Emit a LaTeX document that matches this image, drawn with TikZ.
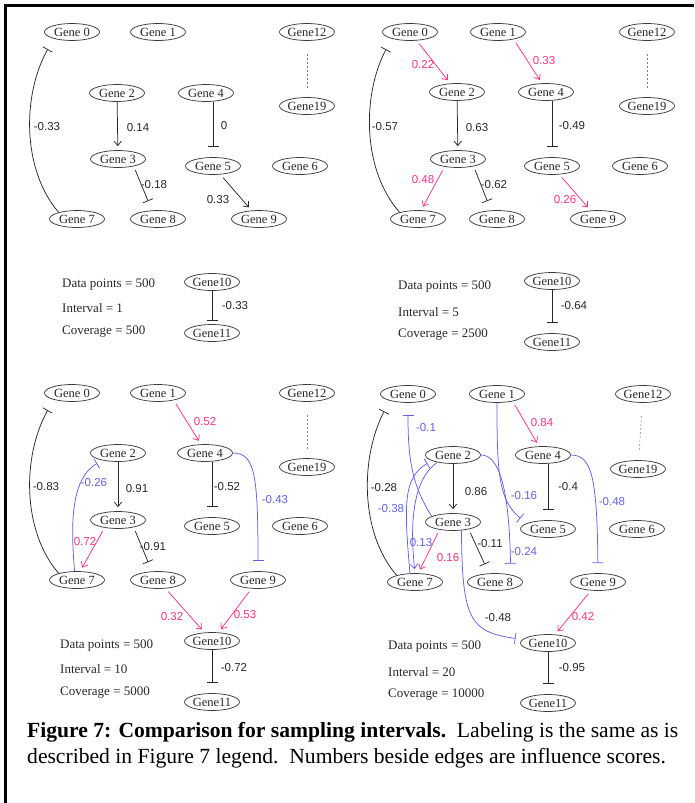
\documentclass[tikz,border=0pt]{standalone}
\usepackage{fontspec}
\setmainfont{Liberation Serif}
\newfontfamily\edgesans{Liberation Sans}
\usetikzlibrary{shapes.geometric,arrows.meta}
\definecolor{actpink}{RGB}{255,51,128}
\definecolor{inhblue}{RGB}{96,96,235}
\definecolor{ink}{RGB}{40,40,40}
\newcommand{\genefont}{\fontsize{12.5}{12.5}\selectfont}
\newcommand{\edgefont}{\edgesans\fontsize{11.5}{11.5}\selectfont}
\newcommand{\infofont}{\fontsize{13}{13}\selectfont}

\begin{document}
\begin{tikzpicture}[x=1pt,y=-1pt,
  gene/.style={ellipse,draw=ink!90,line width=0.75pt,minimum width=55pt,minimum height=17pt,inner sep=0pt,font=\genefont,text=ink},
  link/.style={draw=ink,line width=0.75pt},
  act/.style={link,-{Straight Barb[length=4.5pt,width=7.5pt]},shorten >=4pt},
  inh/.style={link,-{Bar[width=11pt]},shorten >=10pt},
  pinklink/.style={draw=actpink},
  bluelink/.style={draw=inhblue},
  startgap/.style={shorten <=4pt},
  pairline/.style={draw=ink!60,line width=0.5pt,dash pattern=on 2pt off 2pt,shorten <=13pt,shorten >=9pt},
  wt/.style={font=\edgefont,text=ink,inner sep=0pt},
  wtpink/.style={wt,text=actpink},
  wtblue/.style={wt,text=inhblue},
  infotext/.style={anchor=west,font=\infofont,text=ink,inner sep=0pt},
  captionline/.style={anchor=base west,inner sep=0pt,font=\fontsize{21.6}{26}\selectfont,text=black}
]
\useasboundingbox (0,0) rectangle (694,803);

% frame
\draw[line width=3pt] (5,803) -- (5,5) -- (694,5);

% ---------- interval 1 ----------
\node[gene] (a0) at (72,32) {Gene 0};
\node[gene] (a1) at (158,32) {Gene 1};
\node[gene] (a12) at (307,32) {Gene12};
\node[gene] (a2) at (117,93) {Gene 2};
\node[gene] (a4) at (206,93) {Gene 4};
\node[gene] (a19) at (307,106) {Gene19};
\node[gene] (a3) at (118,159) {Gene 3};
\node[gene] (a5) at (213,166) {Gene 5};
\node[gene] (a6) at (300,166) {Gene 6};
\node[gene] (a7) at (77,219) {Gene 7};
\node[gene] (a8) at (158,219) {Gene 8};
\node[gene] (a9) at (259,219) {Gene 9};
\node[gene] (a10) at (212,282) {Gene10};
\node[gene] (a11) at (212,333) {Gene11};

\draw[inh,shorten >=12pt] (a7.160) .. controls (22,170) and (22,95) .. (a0.200);
\node[wt] at (47,127) {-0.33};
\draw[act] (a2) -- (a3);
\node[wt] at (138,128) {0.14};
\draw[inh] (a4.south -| a5) -- (a5.north);
\node[wt] at (224,126) {0};
\draw[inh,startgap] (a3.-25) -- (a8.125);
\node[wt] at (154,185) {-0.18};
\draw[act,startgap] (a5) -- (a9);
\node[wt] at (218,200) {0.33};
\draw[pairline] (a12) -- (a19);
\draw[inh,shorten >=3pt] (a10) -- (a11);
\node[wt] at (235,306) {-0.33};
\node[infotext] at (62,285) {Data points = 500};
\node[infotext] at (62,308) {Interval = 1};
\node[infotext] at (62,332) {Coverage = 500};

% ---------- interval 5 ----------
\node[gene] (b0) at (410,32) {Gene 0};
\node[gene] (b1) at (498,32) {Gene 1};
\node[gene] (b12) at (647,32) {Gene12};
\node[gene] (b2) at (457,92) {Gene 2};
\node[gene] (b4) at (546,92) {Gene 4};
\node[gene] (b19) at (647,106) {Gene19};
\node[gene] (b3) at (458,159) {Gene 3};
\node[gene] (b5) at (552,166) {Gene 5};
\node[gene] (b6) at (640,166) {Gene 6};
\node[gene] (b7) at (418,219) {Gene 7};
\node[gene] (b8) at (497,219) {Gene 8};
\node[gene] (b9) at (598,219) {Gene 9};
\node[gene] (b10) at (552,281) {Gene10};
\node[gene] (b11) at (552,342) {Gene11};

\draw[act,pinklink,startgap] (b0) -- (b2);
\node[wtpink] at (423,65) {0.22};
\draw[act,pinklink,startgap] (b1.-25) -- (b4.115);
\node[wtpink] at (544,61) {0.33};
\draw[inh,shorten >=12pt] (b7.160) .. controls (362,170) and (362,95) .. (b0.200);
\node[wt] at (385,127) {-0.57};
\draw[act] (b2) -- (b3);
\node[wt] at (477,128) {0.63};
\draw[inh] (b4.south -| b5) -- (b5.north);
\node[wt] at (572,126) {-0.49};
\draw[act,pinklink,startgap] (b3.-150) -- (b7.70);
\node[wtpink] at (423,180) {0.48};
\draw[inh,startgap] (b3.-25) -- (b8.125);
\node[wt] at (494,185) {-0.62};
\draw[act,pinklink,startgap] (b5) -- (b9);
\node[wtpink] at (565,200) {0.26};
\draw[pairline] (b12) -- (b19);
\draw[inh] (b10) -- (b11);
\node[wt] at (574,306) {-0.64};
\node[infotext] at (398,287) {Data points = 500};
\node[infotext] at (398,312) {Interval = 5};
\node[infotext] at (398,335) {Coverage = 2500};

% ---------- interval 10 ----------
\node[gene] (c0) at (72,393) {Gene 0};
\node[gene] (c1) at (158,393) {Gene 1};
\node[gene] (c12) at (307,393) {Gene12};
\node[gene] (c2) at (118,453) {Gene 2};
\node[gene] (c4) at (205,453) {Gene 4};
\node[gene] (c19) at (307,467) {Gene19};
\node[gene] (c3) at (118,520) {Gene 3};
\node[gene] (c5) at (212,526) {Gene 5};
\node[gene] (c6) at (300,526) {Gene 6};
\node[gene] (c7) at (77,580) {Gene 7};
\node[gene] (c8) at (158,580) {Gene 8};
\node[gene] (c9) at (258,580) {Gene 9};
\node[gene] (c10) at (212,641) {Gene10};
\node[gene] (c11) at (212,702) {Gene11};

\draw[inh,shorten >=12pt] (c7.160) .. controls (22,531) and (22,456) .. (c0.200);
\node[wt] at (46,487) {-0.83};
\draw[act,pinklink,startgap] (c1.-25) -- (c4.115);
\node[wtpink] at (205,422) {0.52};
\draw[inh,bluelink,shorten >=6pt] (c7.105) .. controls (70,520) and (72,478) .. (c2.205);
\node[wtblue] at (94,483) {-0.26};
\draw[act] (c2) -- (c3);
\node[wt] at (137,489) {0.91};
\draw[inh] (c4.south -| c5) -- (c5.north);
\node[wt] at (227,487) {-0.52};
\draw[inh,bluelink] (c4.east) .. controls (255,453) and (258,475) .. (c9.north);
\node[wtblue] at (275,500) {-0.43};
\draw[act,pinklink,startgap] (c3.-150) -- (c7.70);
\node[wtpink] at (85,542) {0.72};
\draw[inh,startgap] (c3.-25) -- (c8.125);
\node[wt] at (153,547) {-0.91};
\draw[act,pinklink,startgap] (c8) -- (c10);
\node[wtpink] at (172,617) {0.32};
\draw[act,pinklink,startgap] (c9) -- (c10);
\node[wtpink] at (245,615) {0.53};
\draw[inh] (c10) -- (c11);
\node[wt] at (234,668) {-0.72};
\draw[pairline] (c12) -- (c19);
\node[infotext] at (60,646) {Data points = 500};
\node[infotext] at (60,669) {Interval = 10};
\node[infotext] at (60,693) {Coverage = 5000};

% ---------- interval 20 ----------
\node[gene] (d0) at (408,394) {Gene 0};
\node[gene] (d1) at (497,394) {Gene 1};
\node[gene] (d12) at (643,394) {Gene12};
\node[gene] (d2) at (453,455) {Gene 2};
\node[gene] (d4) at (543,455) {Gene 4};
\node[gene] (d19) at (638,469) {Gene19};
\node[gene] (d3) at (453,522) {Gene 3};
\node[gene] (d5) at (548,529) {Gene 5};
\node[gene] (d6) at (637,529) {Gene 6};
\node[gene] (d7) at (415,582) {Gene 7};
\node[gene] (d8) at (495,582) {Gene 8};
\node[gene] (d9) at (598,582) {Gene 9};
\node[gene] (d10) at (548,643) {Gene10};
\node[gene] (d11) at (548,703) {Gene11};

\draw[inh,shorten >=12pt] (d7.160) .. controls (360,533) and (360,458) .. (d0.200);
\node[wt] at (384,488) {-0.28};
\draw[inh,bluelink,shorten >=12pt] (d3.165) .. controls (412,485) and (408,460) .. (d0.south);
\node[wtblue] at (426,428) {-0.1};
\draw[inh,bluelink,shorten >=5pt] (d7.120) .. controls (404,505) and (403,478) .. (d2.195);
\node[wtblue] at (391,509) {-0.38};
\draw[act,bluelink] (d2.205) .. controls (412,480) and (410,525) .. (d7.north);
\node[wtblue] at (421,543) {0.13};
\draw[act] (d2) -- (d3);
\node[wt] at (476,492) {0.86};
\draw[inh,bluelink,shorten >=8pt] (d1.south) .. controls (497,470) and (498,500) .. (d5.165);
\node[wtblue] at (524,496) {-0.16};
\draw[act,pinklink,startgap] (d1.-25) -- (d4.115);
\node[wtpink] at (542,423) {0.84};
\draw[inh] (d4.south -| d5) -- (d5.north);
\node[wt] at (568,487) {-0.4};
\draw[inh,bluelink] (d4.east) .. controls (592,455) and (597,478) .. (d9.north);
\node[wtblue] at (612,502) {-0.48};
\draw[inh,bluelink,shorten >=11pt] (d2.east) .. controls (497,455) and (509,480) .. (d8.25);
\node[wtblue] at (524,552) {-0.24};
\draw[act,pinklink,startgap] (d3.-150) -- (d7.70);
\node[wtpink] at (448,558) {0.16};
\draw[inh,startgap] (d3.-25) -- (d8.125);
\node[wt] at (490,544) {-0.11};
\draw[inh,bluelink,shorten >=7pt] (d3.-45) .. controls (462,620) and (470,632) .. (d10.172);
\node[wt] at (498,618) {-0.48};
\draw[act,pinklink,startgap] (d9) -- (d10);
\node[wtpink] at (583,617) {0.42};
\draw[inh] (d10) -- (d11);
\node[wt] at (572,668) {-0.95};
\draw[pairline] (d12) -- (d19);
\node[infotext] at (388,647) {Data points = 500};
\node[infotext] at (388,672) {Interval = 20};
\node[infotext] at (388,695) {Coverage = 10000};

% caption
\node[captionline] (cap1) at (27,737) {\textbf{Figure 7: Comparison for sampling intervals.}\hspace{0.5em}Labeling is the same as is};
\node[captionline] (cap2) at (27,763) {described in Figure 7 legend.\hspace{0.5em}Numbers beside edges are influence scores.};
\end{tikzpicture}
\end{document}
